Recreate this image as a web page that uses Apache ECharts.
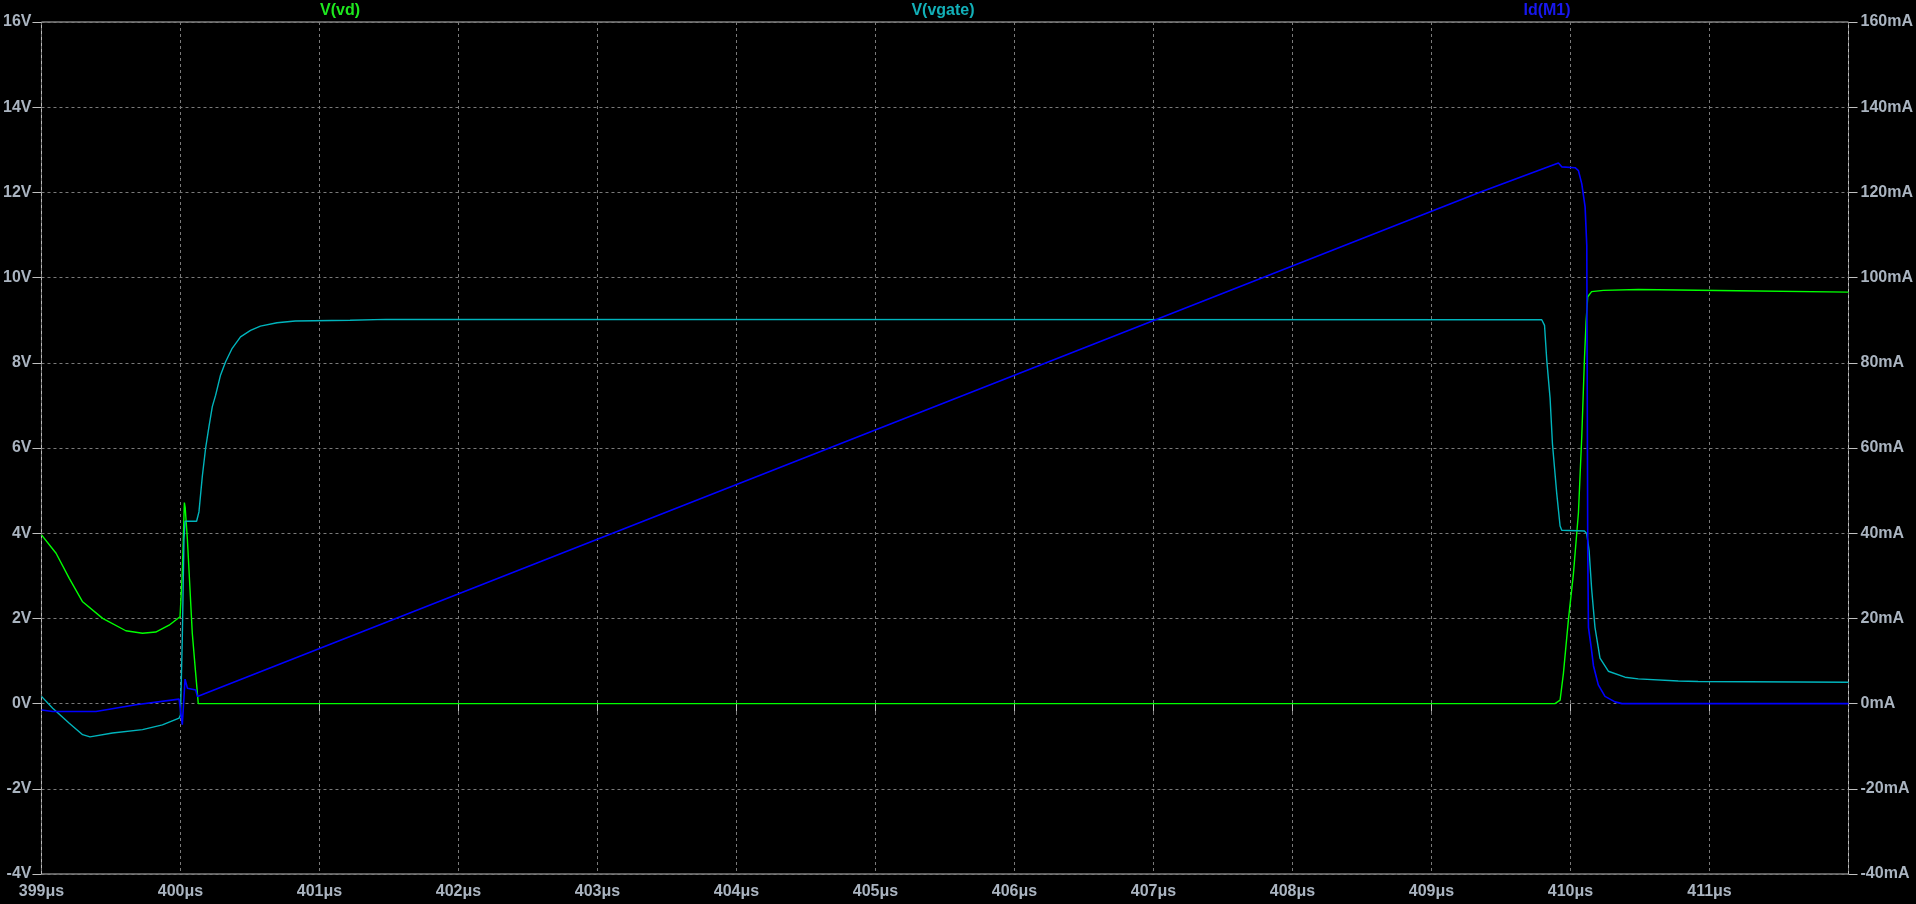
<!DOCTYPE html>
<html>
<head>
<meta charset="utf-8">
<title>V(vd) V(vgate) Id(M1)</title>
<script src="https://cdn.jsdelivr.net/npm/echarts@6/dist/echarts.min.js"></script>
<style>
  html, body { margin: 0; padding: 0; background: #000; }
  #chart { width: 1916px; height: 904px; }
</style>
</head>
<body>
<div id="chart"></div>
<script>
//---------------------------Data---------------------------
//time axis (us)
let timeMin = 399;
let timeMax = 412;

//V(vd) drain voltage
let vdTime = [399, 399.105, 399.2, 399.296, 399.44, 399.607, 399.727, 399.822, 399.918, 399.997,
    400.013, 400.028, 400.034, 400.05, 400.085, 400.109, 400.128,
    409.888, 409.925, 409.949, 409.985, 410.021, 410.057, 410.081, 410.10, 410.112, 410.124,
    410.152, 410.236, 410.487, 411.2, 412];
let vdVolts = [3.96, 3.53, 2.94, 2.39, 2.00, 1.71, 1.65, 1.68, 1.84, 2.04,
    3.06, 4.72, 4.6, 3.84, 1.65, 0.72, 0,
    0, 0.08, 0.71, 1.97, 3.05, 4.48, 6.27, 8.07, 8.97, 9.55,
    9.67, 9.70, 9.72, 9.69, 9.66];

//V(vgate) gate voltage
let vgTime = [399, 399.081, 399.2, 399.296, 399.349, 399.511, 399.727, 399.87, 399.99, 400.0,
    400.013, 400.025, 400.033, 400.116, 400.133, 400.157, 400.181, 400.205, 400.229, 400.253,
    400.288, 400.324, 400.372, 400.432, 400.504, 400.575, 400.695, 400.826, 401.22, 401.48,
    409.793, 409.813, 409.829, 409.853, 409.87, 409.901, 409.925, 409.937, 410.1, 410.117,
    410.134, 410.152, 410.176, 410.212, 410.272, 410.392, 410.487, 410.775, 410.918, 412];
let vgVolts = [0.17, -0.11, -0.46, -0.73, -0.78, -0.69, -0.61, -0.50, -0.34, -0.27,
    1.50, 3.84, 4.28, 4.28, 4.5, 5.33, 6.0, 6.5, 6.97, 7.24,
    7.71, 8.02, 8.34, 8.61, 8.76, 8.86, 8.94, 8.98, 9.0, 9.02,
    9.01, 8.88, 8.07, 7.17, 6.10, 4.93, 4.17, 4.07, 4.05, 3.99,
    3.58, 2.69, 1.79, 1.07, 0.76, 0.62, 0.58, 0.53, 0.52, 0.50];

//Id(M1) drain current (mA)
let idTime = [399, 399.081, 399.392, 399.679, 399.99, 400.0, 400.013, 400.033, 400.05, 400.11,
    400.122, 409.339, 409.913, 409.937, 410.033, 410.057, 410.081, 410.105, 410.117, 410.124,
    410.129, 410.148, 410.165, 410.2, 410.248, 410.32, 410.37, 412];
let idMilliamps = [-1.5, -1.85, -1.85, -0.28, 1.05, 1.05, -4.97, 5.74, 3.6, 3.2,
    1.66, 119.9, 126.9, 126.0, 125.8, 125.1, 122, 116.6, 107.6, 35.8,
    17.9, 13.4, 8.9, 4.4, 1.7, 0.4, 0, 0];

//trace names and colours
let traceNames = ['V(vd)', 'V(vgate)', 'Id(M1)'];
let traceColors = ['#00ff00', '#00b4bc', '#0000ff'];
let titleColors = ['#1ee81e', '#12b0b8', '#1818f0'];
let titleCenters = [340, 943, 1547];

//---------------------------Helpers---------------------------
function pairs(xs, ys) {
    let out = [];
    for (let i = 0; i < xs.length; i++) {
        out.push([xs[i], ys[i]]);
    }
    return out;
}

//---------------------------UI---------------------------
let chart = echarts.init(document.getElementById('chart'));

let labelColor = '#aab4c0';
let frameColor = '#c0c0c0';
let gridColor = '#7a7a7a';
let fontFamily = 'Liberation Sans, Arial, sans-serif';
let labelFont = { color: labelColor, fontFamily: fontFamily, fontWeight: 'bold', fontSize: 16 };

//trace names above the plot
let titleTexts = [];
for (let i = 0; i < traceNames.length; i++) {
    titleTexts.push({
        type: 'text',
        x: titleCenters[i], y: 11,
        silent: true,
        style: {
            text: traceNames[i],
            fill: titleColors[i],
            font: 'bold 16px ' + fontFamily,
            textAlign: 'center',
            textVerticalAlign: 'middle'
        }
    });
}

let option = {
    backgroundColor: '#000',
    animation: false,
    graphic: titleTexts,
    grid: {
        left: 39, right: 66, top: 22, bottom: 30,
        show: true, borderColor: frameColor, borderWidth: 1, backgroundColor: 'transparent'
    },
    xAxis: {
        type: 'value',
        min: timeMin, max: timeMax, interval: 1,
        axisLine: { show: false },
        axisTick: { show: true, length: 8, lineStyle: { color: frameColor } },
        axisLabel: Object.assign({}, labelFont, {
            margin: 10,
            showMaxLabel: false,
            formatter: function (v) { return v === timeMax ? '' : v + 'μs'; }
        }),
        splitLine: { show: true, lineStyle: { color: gridColor, type: [3, 3], width: 1 } }
    },
    yAxis: [
        {
            type: 'value', position: 'left',
            min: -4, max: 16, interval: 2,
            axisLine: { show: false },
            axisTick: { show: true, length: 9, lineStyle: { color: frameColor } },
            axisLabel: Object.assign({}, labelFont, {
                margin: 10,
                formatter: function (v) { return v + 'V'; }
            }),
            splitLine: { show: true, lineStyle: { color: gridColor, type: [3, 3], width: 1 } }
        },
        {
            type: 'value', position: 'right',
            min: -40, max: 160, interval: 20,
            axisLine: { show: false },
            axisTick: { show: true, length: 9, lineStyle: { color: frameColor } },
            axisLabel: Object.assign({}, labelFont, {
                margin: 12,
                formatter: function (v) { return v + 'mA'; }
            }),
            splitLine: { show: false }
        }
    ],
    series: [
        {
            name: traceNames[0], type: 'line', yAxisIndex: 0,
            showSymbol: false, silent: true,
            lineStyle: { color: traceColors[0], width: 1.4 },
            data: pairs(vdTime, vdVolts)
        },
        {
            name: traceNames[1], type: 'line', yAxisIndex: 0,
            showSymbol: false, silent: true,
            lineStyle: { color: traceColors[1], width: 1.4 },
            data: pairs(vgTime, vgVolts)
        },
        {
            name: traceNames[2], type: 'line', yAxisIndex: 1,
            showSymbol: false, silent: true,
            lineStyle: { color: traceColors[2], width: 1.6 },
            data: pairs(idTime, idMilliamps)
        }
    ]
};

chart.setOption(option);
</script>
</body>
</html>
